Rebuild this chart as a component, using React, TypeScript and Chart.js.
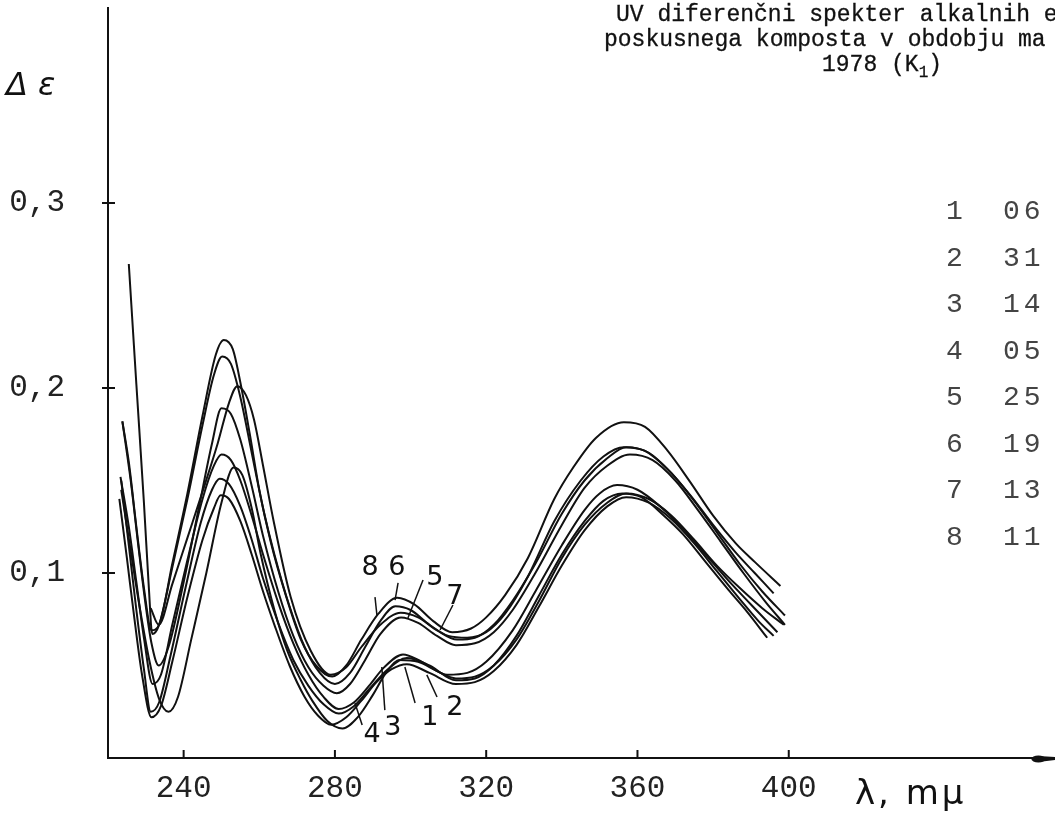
import React, { useEffect, useRef } from 'react';
import { Chart, registerables } from 'chart.js';

Chart.register(...registerables);

// ---- axes ----
const xTickValues = [240, 280, 320, 360, 400];
const xTickLabels = ['240', '280', '320', '360', '400'];
const yTickValues = [0.1, 0.2, 0.3];
const yTickLabels = ['0,1', '0,2', '0,3'];

// ---- legend (curve number, date) ----
const curveIds = ['1', '2', '3', '4', '5', '6', '7', '8'];
const curveDates = ['06', '31', '14', '05', '25', '19', '13', '11'];

// ---- curves: wavelength (mµ) and Δε ----
const c1Lambda = [223.3, 225.5, 227.5, 229.5, 231.8, 234, 237, 241, 245, 248, 250, 252.5, 255, 258, 261, 265, 269, 273, 277, 281, 285, 289, 293, 298, 303, 309.7, 315, 320, 327, 333, 340, 346, 350, 354.6, 360, 366, 372, 378, 384, 390, 397];
const c1Value = [0.152, 0.125, 0.095, 0.065, 0.040, 0.045, 0.072, 0.107, 0.140, 0.158, 0.164, 0.161, 0.150, 0.131, 0.110, 0.084, 0.062, 0.045, 0.033, 0.0265, 0.030, 0.039, 0.049, 0.056, 0.052, 0.045, 0.046, 0.052, 0.069, 0.090, 0.115, 0.134, 0.143, 0.1475, 0.145, 0.136, 0.124, 0.110, 0.096, 0.083, 0.068];

const c2Lambda = [223.5, 225.5, 227.5, 229.5, 231.3, 233.5, 236.5, 240.5, 244.5, 247.5, 249.5, 252, 255, 258, 261, 265, 269, 273, 277, 281, 285, 289, 294, 299, 305, 312, 317, 322, 328, 334, 340, 346, 351, 356, 361, 367, 372, 378, 384, 389, 394.3];
const c2Value = [0.150, 0.115, 0.080, 0.048, 0.025, 0.030, 0.055, 0.092, 0.127, 0.145, 0.151, 0.148, 0.136, 0.118, 0.097, 0.073, 0.053, 0.039, 0.029, 0.024, 0.028, 0.037, 0.048, 0.054, 0.050, 0.042, 0.043, 0.050, 0.066, 0.088, 0.110, 0.128, 0.139, 0.143, 0.141, 0.131, 0.121, 0.106, 0.091, 0.079, 0.065];

const c3Lambda = [223.5, 226, 228.5, 231, 233.5, 236, 238.5, 242, 246, 250, 253.2, 255.5, 258, 260.4, 264, 267.4, 271, 274, 278, 282, 286, 290, 293.5, 297, 302, 307, 312, 317, 322, 328, 334, 340, 346, 352, 357, 363, 369, 375, 381, 387, 393, 398.7];
const c3Value = [0.145, 0.112, 0.080, 0.052, 0.032, 0.025, 0.033, 0.064, 0.100, 0.138, 0.157, 0.153, 0.135, 0.110, 0.080, 0.058, 0.042, 0.031, 0.020, 0.016, 0.022, 0.034, 0.046, 0.053, 0.052, 0.047, 0.043, 0.044, 0.050, 0.064, 0.085, 0.108, 0.126, 0.138, 0.143, 0.140, 0.131, 0.118, 0.104, 0.092, 0.081, 0.072];

const c4Lambda = [223, 225, 227, 229, 231.5, 234, 237, 241, 245, 248, 249.8, 252, 255, 258, 261, 264, 268, 272, 275.5, 279, 283, 287, 291, 295, 299, 305, 312, 317, 322, 328, 334, 340, 346, 352, 357, 363, 369, 375, 381, 387, 392, 396];
const c4Value = [0.140, 0.108, 0.075, 0.045, 0.022, 0.028, 0.052, 0.087, 0.118, 0.135, 0.142, 0.140, 0.128, 0.110, 0.090, 0.072, 0.050, 0.033, 0.023, 0.018, 0.022, 0.031, 0.041, 0.048, 0.0507, 0.046, 0.040, 0.041, 0.047, 0.061, 0.082, 0.104, 0.123, 0.136, 0.141, 0.138, 0.129, 0.116, 0.101, 0.086, 0.074, 0.066];

const c5Lambda = [231.3, 233.4, 237, 241, 245, 249, 252, 254.2, 256.5, 258.6, 261, 263.8, 268.3, 273.6, 278.9, 283, 287, 292, 297.4, 302, 307, 312.3, 317, 322, 327, 333, 340, 346, 352, 357, 363, 369, 375, 381, 387, 393, 399];
const c5Value = [0.081, 0.072, 0.094, 0.119, 0.144, 0.170, 0.192, 0.201, 0.196, 0.183, 0.158, 0.128, 0.087, 0.058, 0.045, 0.049, 0.060, 0.072, 0.0785, 0.076, 0.069, 0.064, 0.065, 0.072, 0.085, 0.105, 0.132, 0.150, 0.162, 0.168, 0.165, 0.154, 0.139, 0.122, 0.105, 0.090, 0.077];

const c6Lambda = [225.5, 227.5, 229.5, 230.8, 231.7, 233.5, 237, 241, 245, 248, 250.2, 252.5, 255, 258, 261, 264, 268, 272, 276, 280, 284, 288, 292, 296, 300, 305, 310, 315, 320, 325, 331, 338, 345, 351, 356.4, 362, 368, 374, 380, 386, 391, 396];
const c6Value = [0.267, 0.202, 0.138, 0.092, 0.067, 0.072, 0.103, 0.140, 0.180, 0.207, 0.217, 0.213, 0.195, 0.165, 0.135, 0.110, 0.082, 0.060, 0.046, 0.040, 0.046, 0.060, 0.074, 0.082, 0.080, 0.072, 0.066, 0.065, 0.068, 0.078, 0.098, 0.128, 0.150, 0.163, 0.168, 0.166, 0.156, 0.142, 0.126, 0.111, 0.100, 0.089];

const c7Lambda = [223.8, 226, 228, 230, 231.5, 233.4, 236, 240, 244, 247.5, 250, 252.5, 255, 258, 261, 265, 269, 273, 277, 280.5, 284, 288, 292, 297.5, 302, 307, 312, 317, 322, 327, 333, 340, 346, 352, 358, 364, 370, 376, 382, 388, 394, 399];
const c7Value = [0.182, 0.150, 0.115, 0.082, 0.062, 0.050, 0.060, 0.095, 0.135, 0.170, 0.189, 0.186, 0.172, 0.147, 0.120, 0.090, 0.066, 0.049, 0.039, 0.035, 0.040, 0.053, 0.067, 0.076, 0.073, 0.066, 0.061, 0.062, 0.068, 0.080, 0.100, 0.126, 0.146, 0.158, 0.164, 0.161, 0.150, 0.134, 0.117, 0.100, 0.084, 0.072];

const c8Lambda = [223.8, 225.5, 227.5, 229.5, 231.5, 233.5, 237, 241, 245, 248.5, 250.6, 253, 255, 257.5, 260, 263, 267, 271, 275, 279.3, 283, 287, 291.5, 296.5, 301, 306, 311, 316, 320, 325, 331, 338, 343, 349, 356.4, 362, 368, 374, 380, 386, 391, 397.8];
const c8Value = [0.182, 0.160, 0.125, 0.092, 0.069, 0.072, 0.105, 0.143, 0.185, 0.218, 0.226, 0.221, 0.203, 0.175, 0.145, 0.117, 0.088, 0.064, 0.050, 0.044, 0.050, 0.064, 0.078, 0.0866, 0.083, 0.074, 0.068, 0.070, 0.076, 0.088, 0.108, 0.140, 0.157, 0.173, 0.1815, 0.179, 0.166, 0.149, 0.131, 0.116, 0.106, 0.093];

const curveLambdas = [c1Lambda, c2Lambda, c3Lambda, c4Lambda, c5Lambda, c6Lambda, c7Lambda, c8Lambda];
const curveValues = [c1Value, c2Value, c3Value, c4Value, c5Value, c6Value, c7Value, c8Value];

// ---- curve number annotations (in data units) ----
const noteText = ['8', '6', '5', '7', '4', '3', '1', '2'];
const noteLambda = [289.3, 296.4, 306.4, 311.7, 289.8, 295.3, 305.1, 311.7];
const noteValue = [0.1027, 0.1027, 0.0973, 0.087, 0.0124, 0.0162, 0.0216, 0.027];
const leaderFromLambda = [290.6, 296.7, 303.3, 311.2, 287.2, 293.2, 301.2, 307.0];
const leaderFromValue = [0.0870, 0.0946, 0.0962, 0.0827, 0.0178, 0.0259, 0.0297, 0.0330];
const leaderToLambda = [291.1, 295.9, 299.3, 307.8, 285.3, 292.4, 298.5, 304.3];
const leaderToValue = [0.0773, 0.0854, 0.0757, 0.0692, 0.0297, 0.0492, 0.0492, 0.0449];

const titleLines = ['UV diferenčni spekter alkalnih e', 'poskusnega komposta v obdobju ma'];

const MONO = "'Liberation Mono', 'DejaVu Sans Mono', monospace";

const decorPlugin = {
  id: 'decor',
  afterDraw(chart: any) {
    const ctx = chart.ctx;
    const xs = chart.scales.x;
    const ys = chart.scales.y;
    const area = chart.chartArea;
    ctx.save();
    ctx.strokeStyle = '#111';
    ctx.fillStyle = '#111';
    ctx.lineWidth = 2;
    // y tick crosses
    yTickValues.forEach((v) => {
      const py = ys.getPixelForValue(v);
      ctx.beginPath();
      ctx.moveTo(area.left - 6, py);
      ctx.lineTo(area.left + 7, py);
      ctx.stroke();
    });
    // x ticks (inside)
    xTickValues.forEach((v) => {
      const px = xs.getPixelForValue(v);
      ctx.beginPath();
      ctx.moveTo(px, area.bottom);
      ctx.lineTo(px, area.bottom - 8);
      ctx.stroke();
    });
    // arrow blob at right end of x axis
    const ax = xs.getPixelForValue(466);
    ctx.beginPath();
    ctx.ellipse(ax, area.bottom + 1, 7, 3.5, 0, 0, Math.PI * 2);
    ctx.fill();
    ctx.beginPath();
    ctx.moveTo(ax, area.bottom - 2);
    ctx.lineTo(area.right, area.bottom - 1);
    ctx.lineTo(area.right, area.bottom + 2);
    ctx.lineTo(ax, area.bottom + 4);
    ctx.fill();
    // curve number leaders
    ctx.lineWidth = 1.5;
    for (let i = 0; i < noteText.length; i++) {
      ctx.beginPath();
      ctx.moveTo(xs.getPixelForValue(leaderFromLambda[i]), ys.getPixelForValue(leaderFromValue[i]));
      ctx.lineTo(xs.getPixelForValue(leaderToLambda[i]), ys.getPixelForValue(leaderToValue[i]));
      ctx.stroke();
    }
    ctx.font = "27px 'DejaVu Sans', sans-serif";
    ctx.textAlign = 'center';
    ctx.textBaseline = 'middle';
    for (let i = 0; i < noteText.length; i++) {
      ctx.fillText(noteText[i], xs.getPixelForValue(noteLambda[i]), ys.getPixelForValue(noteValue[i]));
    }
    ctx.restore();
  },
};

export default function App() {
  const canvasRef = useRef<HTMLCanvasElement | null>(null);

  useEffect(() => {
    const canvas = canvasRef.current;
    if (!canvas) return;
    const datasets = curveLambdas.map((lams, i) => ({
      label: curveIds[i],
      data: lams.map((l, j) => ({ x: l, y: curveValues[i][j] })),
      borderColor: '#111',
      borderWidth: 2,
      pointRadius: 0,
      fill: false,
      cubicInterpolationMode: 'monotone' as const,
    }));
    const chart = new Chart(canvas, {
      type: 'line',
      data: { datasets },
      options: {
        animation: false,
        responsive: false,
        devicePixelRatio: 1,
        layout: { padding: { top: 8, right: 0, left: 0, bottom: 0 } },
        plugins: {
          legend: { display: false },
          tooltip: { enabled: false },
          title: { display: false },
        },
        scales: {
          x: {
            type: 'linear',
            min: 220,
            max: 470.4,
            afterFit: (s: any) => { s.height = 68; s.paddingLeft = 0; s.paddingRight = 0; },
            afterBuildTicks: (s: any) => { s.ticks = xTickValues.map((v) => ({ value: v })); },
            grid: { display: false, drawTicks: false },
            border: { display: true, color: '#111', width: 2 },
            ticks: {
              padding: 12,
              color: '#222',
              font: { family: MONO, size: 31 },
              callback: (_v: any, i: number) => xTickLabels[i],
              maxRotation: 0,
              autoSkip: false,
            },
          },
          y: {
            type: 'linear',
            min: 0,
            max: 0.4054,
            afterFit: (s: any) => { s.width = 108; s.paddingTop = 0; s.paddingBottom = 0; },
            afterBuildTicks: (s: any) => { s.ticks = yTickValues.map((v) => ({ value: v })); },
            grid: { display: false, drawTicks: false },
            border: { display: true, color: '#111', width: 2 },
            ticks: {
              padding: 43,
              color: '#222',
              font: { family: MONO, size: 31 },
              callback: (_v: any, i: number) => yTickLabels[i],
              autoSkip: false,
            },
          },
        },
      },
      plugins: [decorPlugin],
    });
    return () => chart.destroy();
  }, []);

  const textBase: React.CSSProperties = {
    position: 'absolute',
    whiteSpace: 'nowrap',
    fontFamily: MONO,
    color: '#111',
  };

  return (
    <div style={{ position: 'fixed', left: 0, top: 0, width: 1055, height: 826, overflow: 'hidden', background: '#fff' }}>
      <canvas ref={canvasRef} width={1055} height={826} style={{ display: 'block', width: 1055, height: 826 }} />
      <div style={{ ...textBase, left: 616, top: 3, fontSize: 23, lineHeight: '24px', WebkitTextStroke: '0.3px #111' }}>{titleLines[0]}</div>
      <div style={{ ...textBase, left: 604, top: 28, fontSize: 23, lineHeight: '24px', WebkitTextStroke: '0.3px #111' }}>{titleLines[1]}</div>
      <div style={{ ...textBase, left: 822, top: 53, fontSize: 23, lineHeight: '24px', WebkitTextStroke: '0.3px #111' }}>
        1978 (K<sub style={{ fontSize: 16, verticalAlign: '-6px' }}>1</sub>)
      </div>
      <div style={{ ...textBase, left: 6, top: 66, fontSize: 32, lineHeight: '36px', fontFamily: "'DejaVu Sans', sans-serif", fontStyle: 'italic' }}>Δ ε</div>
      <div style={{ ...textBase, left: 855, top: 774, fontSize: 34, lineHeight: '36px', letterSpacing: 3, fontFamily: "'DejaVu Sans', sans-serif" }}>λ, mμ</div>
      {curveIds.map((id, i) => (
        <div key={id} style={{ ...textBase, left: 946, top: 212 + i * 46.5 - 16, fontSize: 28, lineHeight: '32px', color: '#444' }}>
          <span style={{ display: 'inline-block', width: 57 }}>{id}</span>
          <span style={{ letterSpacing: 4 }}>{curveDates[i]}</span>
        </div>
      ))}
    </div>
  );
}
